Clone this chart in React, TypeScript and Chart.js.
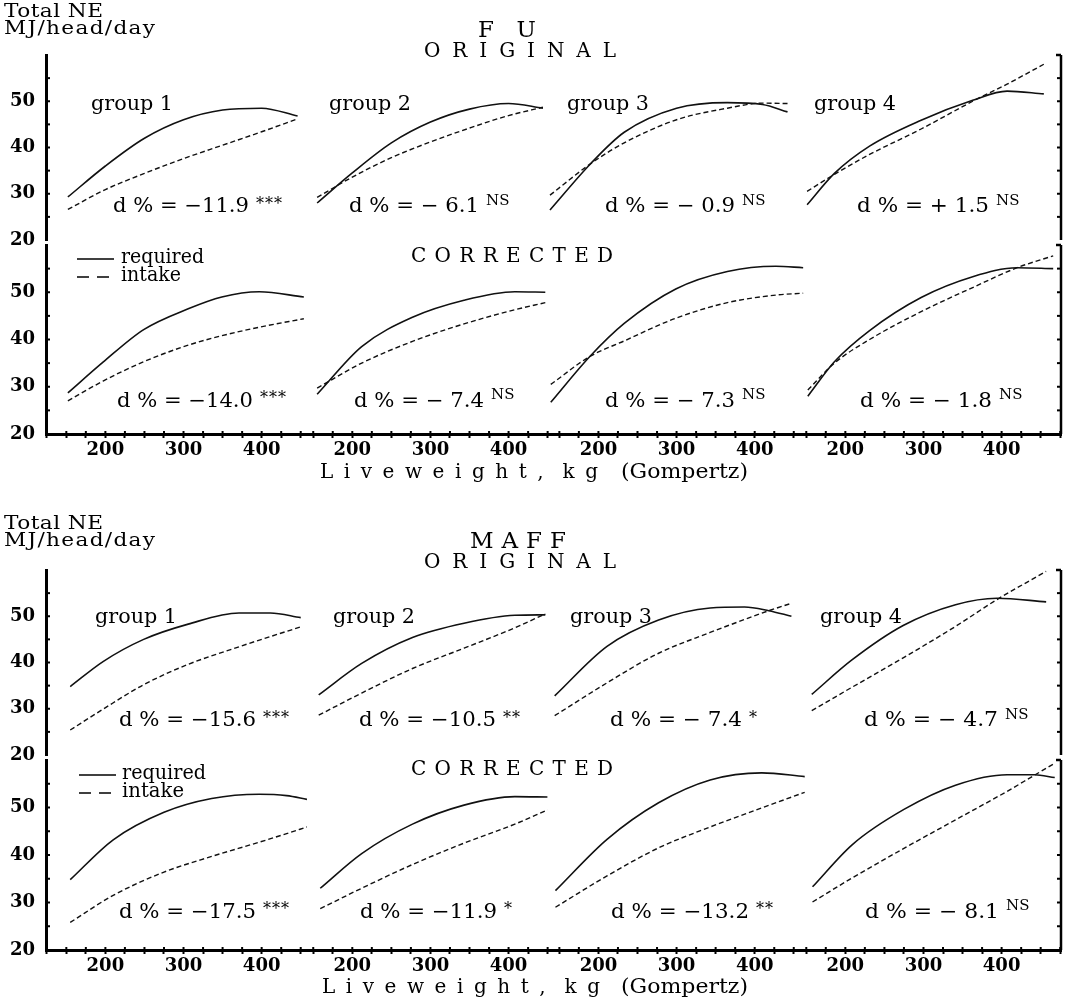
import React, { useEffect, useRef } from "react";
import { Chart, registerables } from "chart.js";

Chart.register(...registerables);

// ================= DATA =================
const X_TICK_LABELS = [200, 300, 400];
const Y_TICK_LABELS = [20, 30, 40, 50];
const GROUPS = ["group 1", "group 2", "group 3", "group 4"];
const SERIES = ["required", "intake"];

// ---- FU, ORIGINAL ----
const FU_O1_KG = [152, 200, 250, 300, 350, 400, 446];
const FU_O1_REQ = [29.3, 36.0, 42.0, 46.0, 48.1, 48.5, 46.8];
const FU_O1_INT = [26.6, 30.9, 34.4, 37.6, 40.5, 43.4, 46.2];
const FU_O2_KG = [155, 200, 250, 300, 350, 400, 444];
const FU_O2_REQ = [28.0, 34.5, 41.0, 45.5, 48.3, 49.5, 48.5];
const FU_O2_INT = [29.2, 33.6, 37.8, 41.2, 44.2, 46.9, 48.7];
const FU_O3_KG = [138, 190, 233, 300, 365, 410, 442];
const FU_O3_REQ = [26.5, 36.5, 43.3, 48.5, 49.7, 49.3, 47.7];
const FU_O3_INT = [29.7, 36.5, 41.0, 46.0, 48.5, 49.6, 49.5];
const FU_O4_KG = [151, 186, 231, 297, 363, 407, 454];
const FU_O4_REQ = [27.6, 34.4, 40.3, 45.9, 50.2, 52.2, 51.6];
const FU_O4_INT = [30.5, 34.2, 38.5, 44.0, 50.0, 53.7, 58.0];

// ---- FU, CORRECTED ----
const FU_C1_KG = [152, 197, 249, 306, 349, 397, 454];
const FU_C1_REQ = [28.7, 35.2, 42.1, 46.5, 49.0, 50.1, 49.0];
const FU_C1_INT = [27.0, 31.2, 35.3, 38.8, 40.8, 42.6, 44.4];
const FU_C2_KG = [155, 212, 277, 343, 408, 447];
const FU_C2_REQ = [28.4, 38.5, 44.7, 48.3, 50.1, 50.0];
const FU_C2_INT = [29.7, 35.0, 39.6, 43.3, 46.3, 47.8];
const FU_C3_KG = [139, 189, 233, 299, 365, 427, 462];
const FU_C3_REQ = [26.7, 36.4, 43.4, 50.7, 54.4, 55.5, 55.2];
const FU_C3_INT = [30.5, 36.4, 39.7, 44.5, 47.8, 49.4, 49.8];
const FU_C4_KG = [152, 186, 231, 297, 363, 420, 466];
const FU_C4_REQ = [28.0, 35.3, 41.9, 48.9, 53.3, 55.2, 55.0];
const FU_C4_INT = [29.3, 35.0, 40.0, 45.9, 51.0, 55.2, 57.7];

// ---- MAFF, ORIGINAL ----
const MA_O1_KG = [155, 197, 249, 306, 371, 411, 450];
const MA_O1_REQ = [34.8, 40.2, 45.0, 48.3, 50.7, 50.7, 49.7];
const MA_O1_INT = [25.4, 29.9, 35.2, 39.6, 43.4, 45.6, 47.7];
const MA_O2_KG = [157, 212, 277, 343, 408, 447];
const MA_O2_REQ = [33.0, 39.8, 45.4, 48.5, 50.2, 50.3];
const MA_O2_INT = [28.6, 33.4, 38.7, 43.1, 47.5, 50.5];
const MA_O3_KG = [144, 211, 277, 343, 387, 418, 447];
const MA_O3_REQ = [32.8, 43.5, 49.2, 51.8, 52.0, 51.2, 50.0];
const MA_O3_INT = [28.5, 35.6, 42.0, 46.5, 49.3, 51.2, 52.8];
const MA_O4_KG = [157, 208, 274, 341, 394, 457];
const MA_O4_REQ = [33.1, 40.5, 48.0, 52.5, 53.9, 53.1];
const MA_O4_INT = [29.6, 34.6, 41.0, 47.8, 53.6, 59.7];

// ---- MAFF, CORRECTED ----
const MA_C1_KG = [155, 210, 275, 336, 397, 432, 458];
const MA_C1_REQ = [34.8, 43.2, 49.0, 51.9, 52.8, 52.5, 51.7];
const MA_C1_INT = [25.8, 31.5, 36.4, 39.7, 42.7, 44.5, 45.9];
const MA_C2_KG = [159, 212, 277, 343, 408, 450];
const MA_C2_REQ = [33.0, 40.3, 46.5, 50.5, 52.3, 52.2];
const MA_C2_INT = [28.7, 33.0, 38.0, 42.5, 46.5, 49.5];
const MA_C3_KG = [145, 211, 277, 343, 409, 464];
const MA_C3_REQ = [32.5, 43.3, 51.0, 55.8, 57.3, 56.5];
const MA_C3_INT = [29.0, 35.6, 41.5, 45.9, 49.9, 53.2];
const MA_C4_KG = [158, 209, 275, 341, 407, 442, 468];
const MA_C4_REQ = [33.3, 42.2, 49.6, 54.7, 56.9, 56.9, 56.3];
const MA_C4_INT = [30.1, 35.2, 41.4, 47.4, 53.4, 56.8, 59.3];

// ---- annotations ----
const FU_ORIG_D = ["d % = \u221211.9", "d % = \u2212 6.1", "d % = \u2212 0.9", "d % = + 1.5"];
const FU_ORIG_SIG = ["***", "NS", "NS", "NS"];
const FU_CORR_D = ["d % = \u221214.0", "d % = \u2212 7.4", "d % = \u2212 7.3", "d % = \u2212 1.8"];
const FU_CORR_SIG = ["***", "NS", "NS", "NS"];
const MA_ORIG_D = ["d % = \u221215.6", "d % = \u221210.5", "d % = \u2212 7.4", "d % = \u2212 4.7"];
const MA_ORIG_SIG = ["***", "**", "*", "NS"];
const MA_CORR_D = ["d % = \u221217.5", "d % = \u221211.9", "d % = \u221213.2", "d % = \u2212 8.1"];
const MA_CORR_SIG = ["***", "*", "**", "NS"];

// ================= LAYOUT / STYLE =================
const FONT = '"DejaVu Serif", "Liberation Serif", serif';
const W = 1066;
const X_RANGES = [
  [124, 458],
  [142, 450],
  [135, 466],
  [150, 476],
];
const Y_MIN = 20;
const Y_MAX = 60;

const FIG_FU: any = {
  key: "fu",
  title: "F U",
  height: 514,
  top: 55,
  bottom: 434,
  rowWeights: [185, 5, 189],
  orig: [
    [FU_O1_KG, FU_O1_REQ, FU_O1_INT],
    [FU_O2_KG, FU_O2_REQ, FU_O2_INT],
    [FU_O3_KG, FU_O3_REQ, FU_O3_INT],
    [FU_O4_KG, FU_O4_REQ, FU_O4_INT],
  ],
  corr: [
    [FU_C1_KG, FU_C1_REQ, FU_C1_INT],
    [FU_C2_KG, FU_C2_REQ, FU_C2_INT],
    [FU_C3_KG, FU_C3_REQ, FU_C3_INT],
    [FU_C4_KG, FU_C4_REQ, FU_C4_INT],
  ],
  dOrig: FU_ORIG_D,
  sOrig: FU_ORIG_SIG,
  dCorr: FU_CORR_D,
  sCorr: FU_CORR_SIG,
  t: {
    head1: { x: 4, w: 99, cy: 12 },
    head2: { x: 4, w: 151, cy: 29 },
    title: { x: 478, w: 58, cy: 31 },
    original: { x: 424, w: 192, cy: 52 },
    corrected: { x: 411, w: 202, cy: 257 },
    groups: { xs: [91, 329, 567, 814], w: 82, cy: 105 },
    d1: { xs: [113, 349, 605, 857], ws: [136, 130, 130, 132], cy: 207, scy: 199 },
    d2: { xs: [117, 354, 605, 860], ws: [136, 130, 130, 132], cy: 402, scy: 393 },
    legend: { x0: 77, x1: 114, tx: 121, y1: 259, y2: 277, w1: 83, w2: 60 },
    xtitle: { x: 320, w: 278, x2: 621, w2: 127, cy: 473 },
  },
};

const FIG_MAFF: any = {
  key: "maff",
  title: "M A F F",
  height: 490,
  top: 56,
  bottom: 436,
  rowWeights: [185, 5, 190],
  orig: [
    [MA_O1_KG, MA_O1_REQ, MA_O1_INT],
    [MA_O2_KG, MA_O2_REQ, MA_O2_INT],
    [MA_O3_KG, MA_O3_REQ, MA_O3_INT],
    [MA_O4_KG, MA_O4_REQ, MA_O4_INT],
  ],
  corr: [
    [MA_C1_KG, MA_C1_REQ, MA_C1_INT],
    [MA_C2_KG, MA_C2_REQ, MA_C2_INT],
    [MA_C3_KG, MA_C3_REQ, MA_C3_INT],
    [MA_C4_KG, MA_C4_REQ, MA_C4_INT],
  ],
  dOrig: MA_ORIG_D,
  sOrig: MA_ORIG_SIG,
  dCorr: MA_CORR_D,
  sCorr: MA_CORR_SIG,
  t: {
    head1: { x: 4, w: 99, cy: 10 },
    head2: { x: 4, w: 151, cy: 27 },
    title: { x: 470, w: 96, cy: 28 },
    original: { x: 424, w: 192, cy: 49 },
    corrected: { x: 411, w: 202, cy: 256 },
    groups: { xs: [95, 333, 570, 820], w: 82, cy: 104 },
    d1: { xs: [119, 359, 610, 864], ws: [137, 137, 132, 134], cy: 207, scy: 199 },
    d2: { xs: [119, 360, 611, 865], ws: [137, 137, 138, 134], cy: 399, scy: 390 },
    legend: { x0: 79, x1: 116, tx: 122, y1: 261, y2: 279, w1: 84, w2: 62 },
    xtitle: { x: 322, w: 278, x2: 621, w2: 127, cy: 474 },
  },
};

// mode "scale": widen glyphs (capped) then letter-space the rest; mode "space": letter-space only
function fitText(ctx: any, text: string, x: number, cy: number, width: number, size: number, mode = "scale") {
  ctx.font = `${size}px ${FONT}`;
  ctx.letterSpacing = "0px";
  ctx.textAlign = "left";
  ctx.textBaseline = "middle";
  const n = Array.from(text).length;
  const natural = ctx.measureText(text).width;
  let s = 1;
  if (mode === "scale") s = Math.max(0.9, Math.min(1.14, width / natural));
  const sp = n > 1 ? (width / s - natural) / (n - 1) : 0;
  ctx.letterSpacing = `${sp.toFixed(2)}px`;
  ctx.save();
  ctx.translate(x, cy);
  ctx.scale(s, 1);
  ctx.fillText(text, 0, 0);
  ctx.restore();
  ctx.letterSpacing = "0px";
}

function drawSig(ctx: any, sig: string, x: number, cy: number) {
  const star = sig.indexOf("*") >= 0;
  ctx.font = `${star ? 16 : 15}px ${FONT}`;
  ctx.letterSpacing = star ? "1px" : "0px";
  ctx.textAlign = "left";
  ctx.textBaseline = "alphabetic";
  ctx.fillText(sig, x, star ? cy + 10 : cy + 5.5);
  ctx.letterSpacing = "0px";
}

function decorPlugin(fig: any) {
  return {
    id: "decor_" + fig.key,
    afterDraw(chart: any) {
      const ctx = chart.ctx;
      const area = chart.chartArea;
      const t = fig.t;
      ctx.save();
      ctx.strokeStyle = "#000";
      ctx.fillStyle = "#000";
      ["yT", "yB"].forEach((id) => {
        const s = chart.scales[id];
        ctx.lineWidth = 2.5;
        ctx.beginPath();
        ctx.moveTo(area.right, s.top);
        ctx.lineTo(area.right, s.bottom);
        ctx.stroke();
        ctx.beginPath();
        ctx.moveTo(area.right - 5, s.top);
        ctx.lineTo(area.right, s.top);
        ctx.stroke();
        ctx.lineWidth = 2;
        s.ticks.forEach((tk: any) => {
          if (tk.value <= s.min || tk.value >= s.max) return;
          const y = s.getPixelForValue(tk.value);
          ctx.beginPath();
          ctx.moveTo(area.left, y);
          ctx.lineTo(area.left + 4, y);
          ctx.stroke();
          ctx.beginPath();
          ctx.moveTo(area.right, y);
          ctx.lineTo(area.right - 4, y);
          ctx.stroke();
        });
      });
      // short inner ticks above the bottom axis line
      ctx.lineWidth = 2;
      [0, 1, 2, 3].forEach((g) => {
        const s = chart.scales["x" + g];
        s.ticks.forEach((tk: any) => {
          const x = s.getPixelForValue(tk.value);
          ctx.beginPath();
          ctx.moveTo(x, area.bottom);
          ctx.lineTo(x, area.bottom - 3);
          ctx.stroke();
        });
      });

      // headings
      fitText(ctx, "Total NE", t.head1.x, t.head1.cy, t.head1.w, 19);
      fitText(ctx, "MJ/head/day", t.head2.x, t.head2.cy, t.head2.w, 19);
      fitText(ctx, fig.title, t.title.x, t.title.cy, t.title.w, 23, "space");
      fitText(ctx, "O R I G I N A L", t.original.x, t.original.cy, t.original.w, 20, "space");
      fitText(ctx, "C O R R E C T E D", t.corrected.x, t.corrected.cy, t.corrected.w, 20, "space");

      // group labels
      GROUPS.forEach((g, i) => fitText(ctx, g, t.groups.xs[i], t.groups.cy, t.groups.w, 20));

      // d% annotations with significance superscripts
      fig.dOrig.forEach((d: string, i: number) => {
        fitText(ctx, d, t.d1.xs[i], t.d1.cy, t.d1.ws[i], 20);
        drawSig(ctx, fig.sOrig[i], t.d1.xs[i] + t.d1.ws[i] + 7, t.d1.scy);
      });
      fig.dCorr.forEach((d: string, i: number) => {
        fitText(ctx, d, t.d2.xs[i], t.d2.cy, t.d2.ws[i], 20);
        drawSig(ctx, fig.sCorr[i], t.d2.xs[i] + t.d2.ws[i] + 7, t.d2.scy);
      });

      // legend
      const L = t.legend;
      ctx.lineWidth = 1.5;
      ctx.setLineDash([]);
      ctx.beginPath();
      ctx.moveTo(L.x0, L.y1);
      ctx.lineTo(L.x1, L.y1);
      ctx.stroke();
      ctx.setLineDash([12, 8]);
      ctx.beginPath();
      ctx.moveTo(L.x0, L.y2);
      ctx.lineTo(L.x1, L.y2);
      ctx.stroke();
      ctx.setLineDash([]);
      fitText(ctx, SERIES[0], L.tx, L.y1 - 1, L.w1, 20);
      fitText(ctx, SERIES[1], L.tx, L.y2 - 1, L.w2, 20);

      // x axis title
      fitText(ctx, "L i v e w e i g h t ,  k g", t.xtitle.x, t.xtitle.cy, t.xtitle.w, 20, "space");
      fitText(ctx, "(Gompertz)", t.xtitle.x2, t.xtitle.cy, t.xtitle.w2, 20);
      ctx.restore();
    },
  };
}

function makeDataset(kg: number[], vals: number[], g: number, yId: string, dashed: boolean, label: string) {
  return {
    type: "line",
    label,
    data: kg.map((x, i) => ({ x, y: vals[i] })),
    xAxisID: "x" + g,
    yAxisID: yId,
    borderColor: "#111",
    borderWidth: dashed ? 1.4 : 1.6,
    borderDash: dashed ? [5, 3] : [],
    pointRadius: 0,
    cubicInterpolationMode: "monotone",
    fill: false,
  };
}

function makeConfig(fig: any): any {
  const datasets: any[] = [];
  [
    ["orig", "yT"],
    ["corr", "yB"],
  ].forEach(([row, yId]) => {
    fig[row].forEach((p: any, g: number) => {
      datasets.push(makeDataset(p[0], p[1], g, yId, false, `${row} ${GROUPS[g]} ${SERIES[0]}`));
      datasets.push(makeDataset(p[0], p[2], g, yId, true, `${row} ${GROUPS[g]} ${SERIES[1]}`));
    });
  });

  const scales: any = {};
  X_RANGES.forEach(([mn, mx], g) => {
    scales["x" + g] = {
      type: "linear",
      position: "bottom",
      stack: "xs",
      stackWeight: mx - mn,
      weight: g,
      min: mn,
      max: mx,
      afterFit: (s: any) => {
        s.height = fig.height - fig.bottom;
      },
      grid: { drawOnChartArea: false, drawTicks: true, tickLength: 4, tickWidth: 2, tickColor: "#000" },
      border: { display: true, color: "#000", width: 3 },
      ticks: {
        stepSize: 25,
        includeBounds: false,
        autoSkip: false,
        maxRotation: 0,
        padding: 2,
        color: "#000",
        font: { family: FONT, size: 18, weight: "bold" },
        callback: (v: number) => (X_TICK_LABELS.includes(v) ? String(v) : ""),
      },
    };
  });
  const yCommon = (weight: number, stackWeight: number) => ({
    type: "linear",
    position: "left",
    stack: "ys",
    stackWeight,
    weight,
    min: Y_MIN,
    max: Y_MAX,
    afterFit: (s: any) => {
      s.width = 46;
    },
    grid: { drawOnChartArea: false, drawTicks: false },
    border: { display: true, color: "#000", width: 3 },
    ticks: {
      stepSize: 5,
      autoSkip: false,
      padding: 11,
      color: "#000",
      font: { family: FONT, size: 18, weight: "bold" },
      callback: (v: number) => (Y_TICK_LABELS.includes(v) ? String(v) : ""),
    },
  });
  scales.yT = yCommon(3, fig.rowWeights[0]);
  scales.yS = { ...yCommon(2, fig.rowWeights[1]), display: false };
  scales.yB = yCommon(1, fig.rowWeights[2]);

  return {
    type: "line",
    data: { datasets },
    options: {
      responsive: false,
      animation: false,
      devicePixelRatio: 1,
      events: [],
      layout: { padding: { top: fig.top, left: 0, right: 5, bottom: 0 } },
      plugins: {
        legend: { display: false },
        tooltip: { enabled: false },
        title: { display: false },
      },
      scales,
    },
    plugins: [decorPlugin(fig)],
  };
}

export default function App() {
  const ref1 = useRef<HTMLCanvasElement>(null);
  const ref2 = useRef<HTMLCanvasElement>(null);
  useEffect(() => {
    document.body.style.margin = "0";
    Chart.defaults.font.family = FONT;
    const c1 = new Chart(ref1.current as HTMLCanvasElement, makeConfig(FIG_FU));
    const c2 = new Chart(ref2.current as HTMLCanvasElement, makeConfig(FIG_MAFF));
    return () => {
      c1.destroy();
      c2.destroy();
    };
  }, []);
  return (
    <div style={{ position: "relative", width: W, height: 1004, background: "#fff" }}>
      <canvas
        ref={ref1}
        width={W}
        height={FIG_FU.height}
        style={{ position: "absolute", left: 0, top: 0, width: W, height: FIG_FU.height }}
      />
      <canvas
        ref={ref2}
        width={W}
        height={FIG_MAFF.height}
        style={{ position: "absolute", left: 0, top: FIG_FU.height, width: W, height: FIG_MAFF.height }}
      />
    </div>
  );
}
